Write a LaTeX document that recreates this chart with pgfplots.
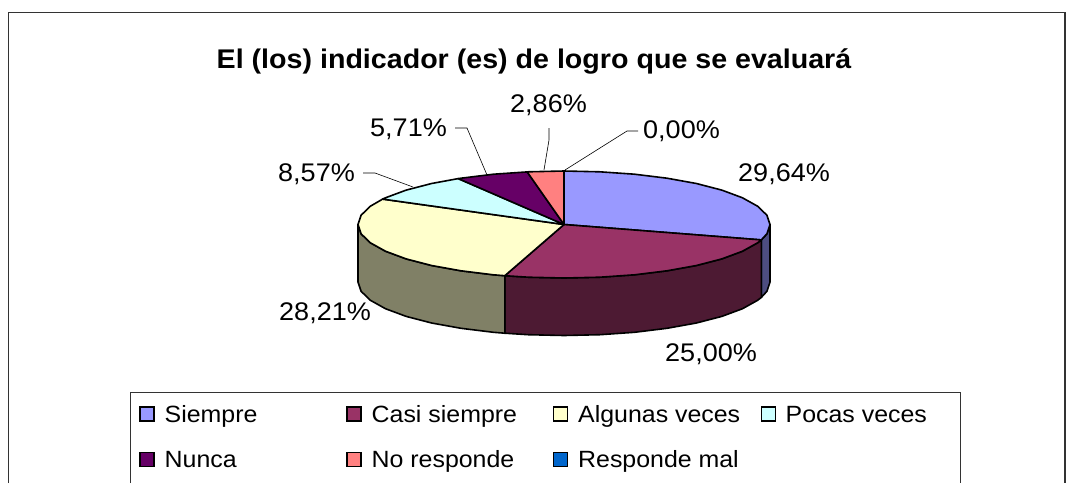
\documentclass[border=0pt]{standalone}
\usepackage{pgfplots}
\pgfplotsset{compat=1.18}
\usepackage{fontspec}
\setmainfont[FakeStretch=1.06]{Liberation Sans}
\definecolor{cA}{HTML}{9999FF}\definecolor{cB}{HTML}{993366}\definecolor{cC}{HTML}{FFFFCC}
\definecolor{cD}{HTML}{CCFFFF}\definecolor{cE}{HTML}{660066}\definecolor{cF}{HTML}{FF8080}\definecolor{cG}{HTML}{0066CC}
\definecolor{sA}{HTML}{4D4D80}\definecolor{sB}{HTML}{4D1A33}\definecolor{sC}{HTML}{808066}
\definecolor{frameg}{HTML}{333333}
\newcommand{\lab}{\fontsize{25.5}{30}\selectfont}
\newcommand{\leg}{\fontsize{23.5}{28}\selectfont}
\begin{document}
\begin{tikzpicture}[x=1pt,y=1pt]
\path[use as bounding box] (0,0) rectangle (1074,483);
\begin{axis}[at={(0,0)},anchor=south west,scale only axis,width=1074pt,height=483pt,
  xmin=0,xmax=1074,ymin=0,ymax=483,y dir=reverse,hide axis,clip=false]
% chart frame
\addplot[frameg,line width=1.3pt] coordinates {(8.5,483)(8.5,12.5)(1065,12.5)(1065,483)};
% sides
\addplot[fill=sA,draw=black,line width=1.6pt,line join=round] coordinates {(770,224.5)(766.9,233.8)(761.3,239.9)(761.3,297.4)(766.9,291.3)(770,282)} -- cycle;
\addplot[fill=sB,draw=black,line width=1.6pt,line join=round] coordinates {(761.3,239.9)(757.6,242.8)(742.4,251.25)(721.8,258.9)(696.4,265.5)(667,270.8)(634.5,274.8)(599.8,277.2)(564,278)(528.2,277.2)(504.8,275.7)
 (504.8,333.2)(528.2,334.7)(564,335.5)(599.8,334.7)(634.5,332.3)(667,328.3)(696.4,323)(721.8,316.4)(742.4,308.75)(757.6,300.3)(761.3,297.4)} -- cycle;
\addplot[fill=sC,draw=black,line width=1.6pt,line join=round] coordinates {(504.8,275.7)(493.5,274.8)(461,270.8)(431.6,265.5)(406.2,258.9)(385.6,251.25)(370.4,242.8)(361.1,233.8)(358,224.5)
 (358,282)(361.1,291.3)(370.4,300.3)(385.6,308.75)(406.2,316.4)(431.6,323)(461,328.3)(493.5,332.3)(504.8,333.2)} -- cycle;
% top slices
\addplot[fill=cA,draw=black,line width=1.6pt,line join=round] coordinates {(564,224.5)(564,171)(599.8,171.8)(634.5,174.2)(667,178.2)(696.4,183.5)(721.8,190.1)(742.4,197.75)(757.6,206.2)(766.9,215.2)(770,224.5)(766.9,233.8)(761.3,239.9)} -- cycle;
\addplot[fill=cB,draw=black,line width=1.6pt,line join=round] coordinates {(564,224.5)(761.3,239.9)(757.6,242.8)(742.4,251.25)(721.8,258.9)(696.4,265.5)(667,270.8)(634.5,274.8)(599.8,277.2)(564,278)(528.2,277.2)(504.8,275.7)} -- cycle;
\addplot[fill=cC,draw=black,line width=1.6pt,line join=round] coordinates {(564,224.5)(504.8,275.7)(493.5,274.8)(461,270.8)(431.6,265.5)(406.2,258.9)(385.6,251.25)(370.4,242.8)(361.1,233.8)(358,224.5)(361.1,215.2)(370.4,206.2)(382.6,199.1)} -- cycle;
\addplot[fill=cD,draw=black,line width=1.6pt,line join=round] coordinates {(564,224.5)(382.6,199.1)(385.6,197.75)(406.2,190.1)(431.6,183.5)(458.2,178.6)} -- cycle;
\addplot[fill=cE,draw=black,line width=1.6pt,line join=round] coordinates {(564,224.5)(458.2,178.6)(461,178.2)(493.5,174.2)(527.2,171.9)} -- cycle;
\addplot[fill=cF,draw=black,line width=1.6pt,line join=round] coordinates {(564,224.5)(527.2,171.9)(528.2,171.8)(564,171)} -- cycle;
% leader lines
\addplot[black,line width=0.6pt] coordinates {(363,173)(375,173)(413,187)};
\addplot[black,line width=0.6pt] coordinates {(455,128)(467,128)(487,175)};
\addplot[black,line width=0.6pt] coordinates {(549,128)(549,140)(544,170)};
\addplot[black,line width=0.6pt] coordinates {(638,131)(627,131)(565,170)};
% legend
\addplot[frameg,line width=1pt] coordinates {(130,483)(130,392)(960,392)(960,483)};
\addplot[only marks,mark=square*,mark size=7pt,mark options={fill=cA,draw=black,line width=1.3pt}] coordinates {(147,414)};
\addplot[only marks,mark=square*,mark size=7pt,mark options={fill=cB,draw=black,line width=1.3pt}] coordinates {(354,414)};
\addplot[only marks,mark=square*,mark size=7pt,mark options={fill=cC,draw=black,line width=1.3pt}] coordinates {(560.5,414)};
\addplot[only marks,mark=square*,mark size=7pt,mark options={fill=cD,draw=black,line width=1.3pt}] coordinates {(768.5,414)};
\addplot[only marks,mark=square*,mark size=7pt,mark options={fill=cE,draw=black,line width=1.3pt}] coordinates {(147,459.5)};
\addplot[only marks,mark=square*,mark size=7pt,mark options={fill=cF,draw=black,line width=1.3pt}] coordinates {(354,459.5)};
\addplot[only marks,mark=square*,mark size=7pt,mark options={fill=cG,draw=black,line width=1.3pt}] coordinates {(560.5,459.5)};
\tikzset{lb/.style={anchor=base west,inner sep=0pt,font=\leg}}
\node[lb] at (axis cs:164.5,422) {Siempre};
\node[lb] at (axis cs:371.5,422) {Casi siempre};
\node[lb] at (axis cs:578,422) {Algunas veces};
\node[lb] at (axis cs:785.5,422) {Pocas veces};
\node[lb] at (axis cs:164.5,467.5) {Nunca};
\node[lb] at (axis cs:371.5,467.5) {No responde};
\node[lb] at (axis cs:578,467.5) {Responde mal};
% title
\node[anchor=base,inner sep=0pt] at (axis cs:534,68) {\fontsize{27}{32}\selectfont\bfseries El (los) indicador (es) de logro que se evaluará};
% data labels
\tikzset{dl/.style={anchor=base west,inner sep=0pt,font=\lab}}
\node[dl] at (axis cs:738,181) {29,64\%};
\node[dl] at (axis cs:665,361) {25,00\%};
\node[dl] at (axis cs:279,320) {28,21\%};
\node[dl] at (axis cs:278,181) {8,57\%};
\node[dl] at (axis cs:370,136) {5,71\%};
\node[dl] at (axis cs:510,112) {2,86\%};
\node[dl] at (axis cs:643,138) {0,00\%};
\end{axis}
\end{tikzpicture}
\end{document}
